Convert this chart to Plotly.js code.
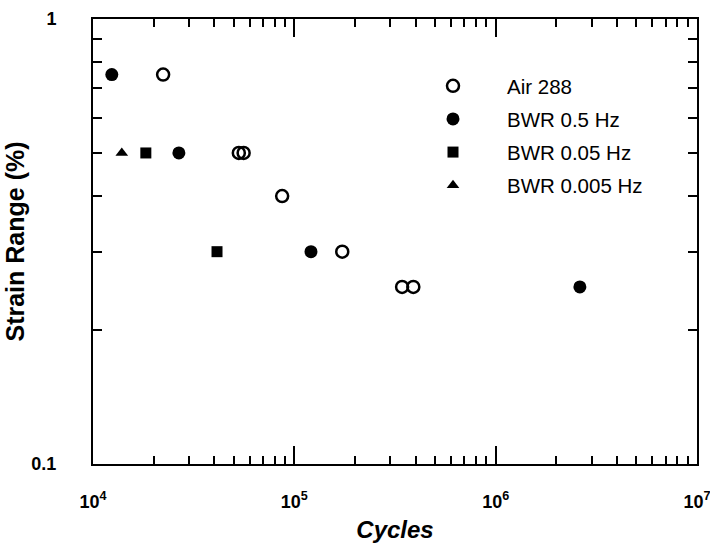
<!DOCTYPE html>
<html>
<head>
<meta charset="utf-8">
<script src="https://cdn.plot.ly/plotly-3.0.1.min.js"></script>
<style>html,body{margin:0;padding:0;background:#fff;}#chart{width:710px;height:544px;}</style>
</head>
<body>
<div id="chart"></div>
<script>
// Series names
const seriesNames = ["Air 288", "BWR 0.5 Hz", "BWR 0.05 Hz", "BWR 0.005 Hz"];
// Air 288 (open circles)
const airCycles = [2.23e4, 5.3e4, 5.6e4, 8.7e4, 1.73e5, 3.43e5, 3.9e5];
const airStrain = [0.75, 0.5, 0.5, 0.4, 0.3, 0.25, 0.25];
// BWR 0.5 Hz (filled circles)
const bwr05Cycles = [1.24e4, 2.67e4, 1.21e5, 2.62e6];
const bwr05Strain = [0.75, 0.5, 0.3, 0.25];
// BWR 0.05 Hz (filled squares)
const bwr005Cycles = [1.83e4, 4.13e4];
const bwr005Strain = [0.5, 0.3];
// BWR 0.005 Hz (filled triangles)
const bwr0005Cycles = [1.39e4];
const bwr0005Strain = [0.5];

// Tick labels
const xTickVals = [1e4, 1e5, 1e6, 1e7];
const xTickText = ["10<sup>4</sup>", "10<sup>5</sup>", "10<sup>6</sup>", "10<sup>7</sup>"];
const yTickVals = [0.1, 1];
const yTickText = ["0.1", "1"];

const FONT = "Liberation Sans, Arial, Helvetica, sans-serif";

function minorLog(lo, hi) {
  const v = [];
  for (let d = lo; d < hi; d++) {
    for (let m = 2; m <= 9; m++) v.push(m * Math.pow(10, d));
  }
  return v;
}

function mk(name, x, y, symbol, size, group) {
  const open = symbol.indexOf("open") >= 0;
  return {
    type: "scatter", mode: "markers", name: name, x: x, y: y,
    legendgroup: group,
    marker: {
      symbol: symbol, size: size, color: "#000",
      line: {color: "#000", width: open ? 2.5 : 0}
    },
    hoverinfo: "skip"
  };
}

const traces = [
  mk(seriesNames[0], airCycles, airStrain, "circle-open", 12, "a"),
  mk(seriesNames[1], bwr05Cycles, bwr05Strain, "circle", 13, "b"),
  mk(seriesNames[2], bwr005Cycles, bwr005Strain, "square", 11, "c"),
  mk(seriesNames[3], bwr0005Cycles, bwr0005Strain, "triangle-up", 11, "d")
];

const axisCommon = {
  type: "log",
  showgrid: false,
  zeroline: false,
  showline: true,
  linecolor: "#000",
  linewidth: 2,
  mirror: "allticks",
  ticks: "inside",
  tickcolor: "#000",
  tickwidth: 2,
  tickmode: "array",
  ticklabeloverflow: "allow",
  tickfont: {family: FONT, size: 18, color: "#000", weight: "bold"}
};

const layout = {
  width: 710, height: 544,
  paper_bgcolor: "#fff", plot_bgcolor: "#fff",
  margin: {l: 93, r: 13, t: 19, b: 80, autoexpand: false},
  showlegend: true,
  legend: {
    x: (399 - 93) / 604, y: 0.8945, xanchor: "left", yanchor: "top",
    font: {family: FONT, size: 20.5, color: "#000"},
    bgcolor: "rgba(0,0,0,0)",
    itemwidth: 98,
    traceorder: "grouped",
    tracegroupgap: 3.5
  },
  xaxis: Object.assign({}, axisCommon, {
    range: [4, 7.0001],
    tickvals: xTickVals, ticktext: xTickText,
    ticklen: 18,
    ticklabelstandoff: 20,
    minor: {tickmode: "array", tickvals: minorLog(4, 7), ticks: "inside", ticklen: 8, tickwidth: 2, tickcolor: "#000"},
    title: {text: "Cycles", font: {family: FONT, size: 24, color: "#000", weight: "bold", style: "italic"}, standoff: 11}
  }),
  yaxis: Object.assign({}, axisCommon, {
    range: [-1, 0],
    tickvals: yTickVals, ticktext: yTickText,
    ticklen: 9,
    ticklabelstandoff: 31,
    minor: {tickmode: "array", tickvals: minorLog(-1, 0), ticks: "inside", ticklen: 9, tickwidth: 2, tickcolor: "#000"},
    title: {text: "Strain Range (%)", font: {family: FONT, size: 25, color: "#000", weight: "bold"}, standoff: 0}
  })
};

Plotly.newPlot("chart", traces, layout, {staticPlot: true, displayModeBar: false});
</script>
</body>
</html>
